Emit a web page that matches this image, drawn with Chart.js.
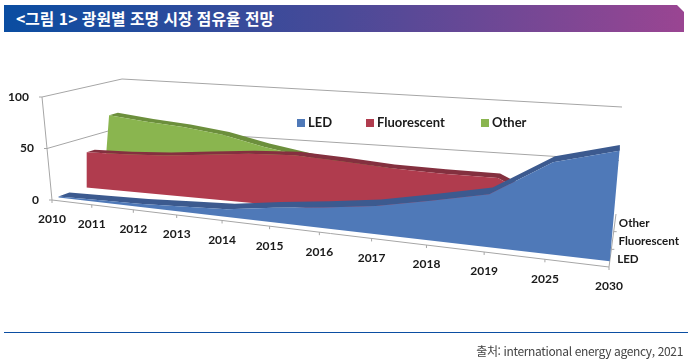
<!DOCTYPE html>
<html lang="ko"><head><meta charset="utf-8">
<script src="https://cdn.jsdelivr.net/npm/chart.js@4/dist/chart.umd.min.js"></script>
<style>
html,body{margin:0;padding:0;background:#fff}
#wrap{position:relative;width:688px;height:362px;overflow:hidden}
canvas{position:absolute;left:0;top:0}
#band{position:absolute;left:4px;top:5px;width:680px;height:27px;background:linear-gradient(90deg,#0a4da1 0%,#4a4a98 50%,#9a4592 100%);clip-path:polygon(0 0,673px 0,100% 7px,100% 100%,0 100%);color:#fff;font:700 15.8px "Noto Sans CJK KR";line-height:27px;text-indent:12px;white-space:pre}
#rule{position:absolute;left:4px;top:332px;width:684px;height:1px;background:#0b4ea2}
#src{position:absolute;right:5px;top:342px;color:#444;font:12px "Noto Sans CJK KR","Noto Sans";line-height:18px;letter-spacing:-.35px;white-space:pre}
</style></head><body>
<div id="wrap">
<canvas id="c" width="688" height="362"></canvas>
<div id="band">&lt;그림 1&gt; 광원별 조명 시장 점유율 전망</div>
<div id="rule"></div>
<div id="src">출처: international energy agency, 2021</div>
</div>
<script>
const categories = ['2010','2011','2012','2013','2014','2015','2016','2017','2018','2019','2025','2030'];
const seriesNames = ['LED','Fluorescent','Other'];
const ledValues = [1,2,3,5,7,13,18,24,33,43,73,86];
const fluorescentValues = [35,36,38,42,46,48,46,43,42,42,20,null];
const otherValues = [66,62,59,54,45,38,32,28,18,8,7,null];
const valueTicks = [0,50,100];

const frontColors = ['#4f79b8','#b03c4e','#8ab54f'];
const topColors = ['#3c5a8f','#84303f','#6c8f3c'];
const depthBands = [[.11,.29],[.57,.69],[.87,.99]];
const gridColor = '#a6a6a6';
const textColor = '#1a1a1a';
const axisFont = '700 12px Lato';
const depthFont = '700 11.6px Lato';
const legendFont = '700 13px Lato';

// Perspective cube: category position, value, depth -> picture position
const corners = {
  fb0:[52,200], fb1:[609,267], ft0:[42,97], ft1:[621,136],
  bb0:[112,178], bb1:[616,214], bt0:[122,79], bt1:[622,107]
};
const lerp = (a,b,t)=>a+(b-a)*t;
const persp = 1.3;
function project(i,value,depth){
  const u = i/(categories.length-1);
  const p = u/(u+persp*(1-u));
  const v = value/100;
  const at = k=>{
    const f0=lerp(corners.fb0[k],corners.ft0[k],v), f1=lerp(corners.fb1[k],corners.ft1[k],v);
    const b0=lerp(corners.bb0[k],corners.bt0[k],v), b1=lerp(corners.bb1[k],corners.bt1[k],v);
    return lerp(lerp(f0,f1,p),lerp(b0,b1,p),depth);
  };
  return {x:at(0),y:at(1)};
}
const last = categories.length-1;
const poly = (name,data,color)=>({label:name,data,backgroundColor:color,borderColor:color,borderWidth:0,fill:'shape',pointRadius:0,tension:0});
const stroke = (name,data)=>({label:name,data,borderColor:gridColor,borderWidth:1,fill:false,pointRadius:0,tension:0});

const allValues = [ledValues,fluorescentValues,otherValues];
const datasets = [];
allValues.forEach((vals,s)=>{
  const [d0,d1] = depthBands[s];
  const known = vals.map((v,i)=>[i,v]).filter(p=>p[1]!==null);
  const end = known[known.length-1][0];
  const front = [project(0,0,d0),...known.map(([i,v])=>project(i,v,d0)),project(end,0,d0)];
  const topEdge = [...known.map(([i,v])=>project(i,v,d0)),...known.map(([i,v])=>project(i,v,d1)).reverse()];
  datasets.push(poly(seriesNames[s],front,frontColors[s]));
  datasets.push(poly(seriesNames[s]+' top',topEdge,topColors[s]));
});
// walls and axes
datasets.push(stroke('front axis',[project(0,0,0),project(last,0,0)]));
datasets.push(stroke('left axis',[project(0,0,0),project(0,100,0)]));
datasets.push(stroke('depth axis',[project(last,0,0),project(last,0,1)]));
valueTicks.filter(t=>t>0).forEach(t=>{
  datasets.push(stroke('wall '+t,[project(0,t,0),project(0,t,1),project(last,t,1)]));
});

const text3d = {
  id:'text3d',
  afterDraw(chart){
    const {ctx,scales:{x,y}} = chart;
    const px = p=>({x:x.getPixelForValue(p.x),y:y.getPixelForValue(p.y)});
    ctx.save();
    ctx.font = axisFont; ctx.fillStyle = textColor; ctx.textBaseline='middle';
    ctx.strokeStyle = gridColor; ctx.lineWidth = 1;
    const tick=(a,dx,dy)=>{ctx.beginPath();ctx.moveTo(a.x,a.y);ctx.lineTo(a.x+dx,a.y+dy);ctx.stroke();};
    ctx.textAlign='center';
    categories.forEach((c,i)=>{
      const a=px(project(i,0,0));
      tick(a,0,3);
      ctx.fillText(c,a.x,a.y+19.5);
    });
    ctx.textAlign='right';
    valueTicks.forEach(t=>{
      const a=px(project(0,t,0));
      tick(a,-3,0);
      ctx.fillText(String(t),a.x-13,a.y);
    });
    [1/3,2/3].forEach(d=>{const a=px(project(last,0,d));tick(a,3,0);});
    ctx.textAlign='left';
    ctx.font = depthFont;
    seriesNames.forEach((n,s)=>{
      const a=px(project(last,0,(s+.5)/3));
      ctx.fillText(n,a.x+(s===0?7:s===1?6:4),a.y+(s===0?1:0.5));
    });
    // legend
    ctx.font = legendFont;
    const legendX=[297,366,481], legendY=123;
    seriesNames.forEach((n,s)=>{
      ctx.fillStyle=frontColors[s];
      ctx.fillRect(legendX[s],legendY-4,8,8);
      ctx.fillStyle=textColor;
      ctx.fillText(n,legendX[s]+11,legendY);
    });
    ctx.restore();
  }
};

new Chart(document.getElementById('c'),{
  type:'line',
  data:{datasets},
  options:{
    responsive:false,animation:false,parsing:true,
    layout:{padding:0},
    plugins:{legend:{display:false},tooltip:{enabled:false},title:{display:false}},
    scales:{
      x:{type:'linear',min:0,max:688,display:false},
      y:{type:'linear',min:0,max:362,reverse:true,display:false}
    }
  },
  plugins:[text3d]
});
</script>
</body></html>
